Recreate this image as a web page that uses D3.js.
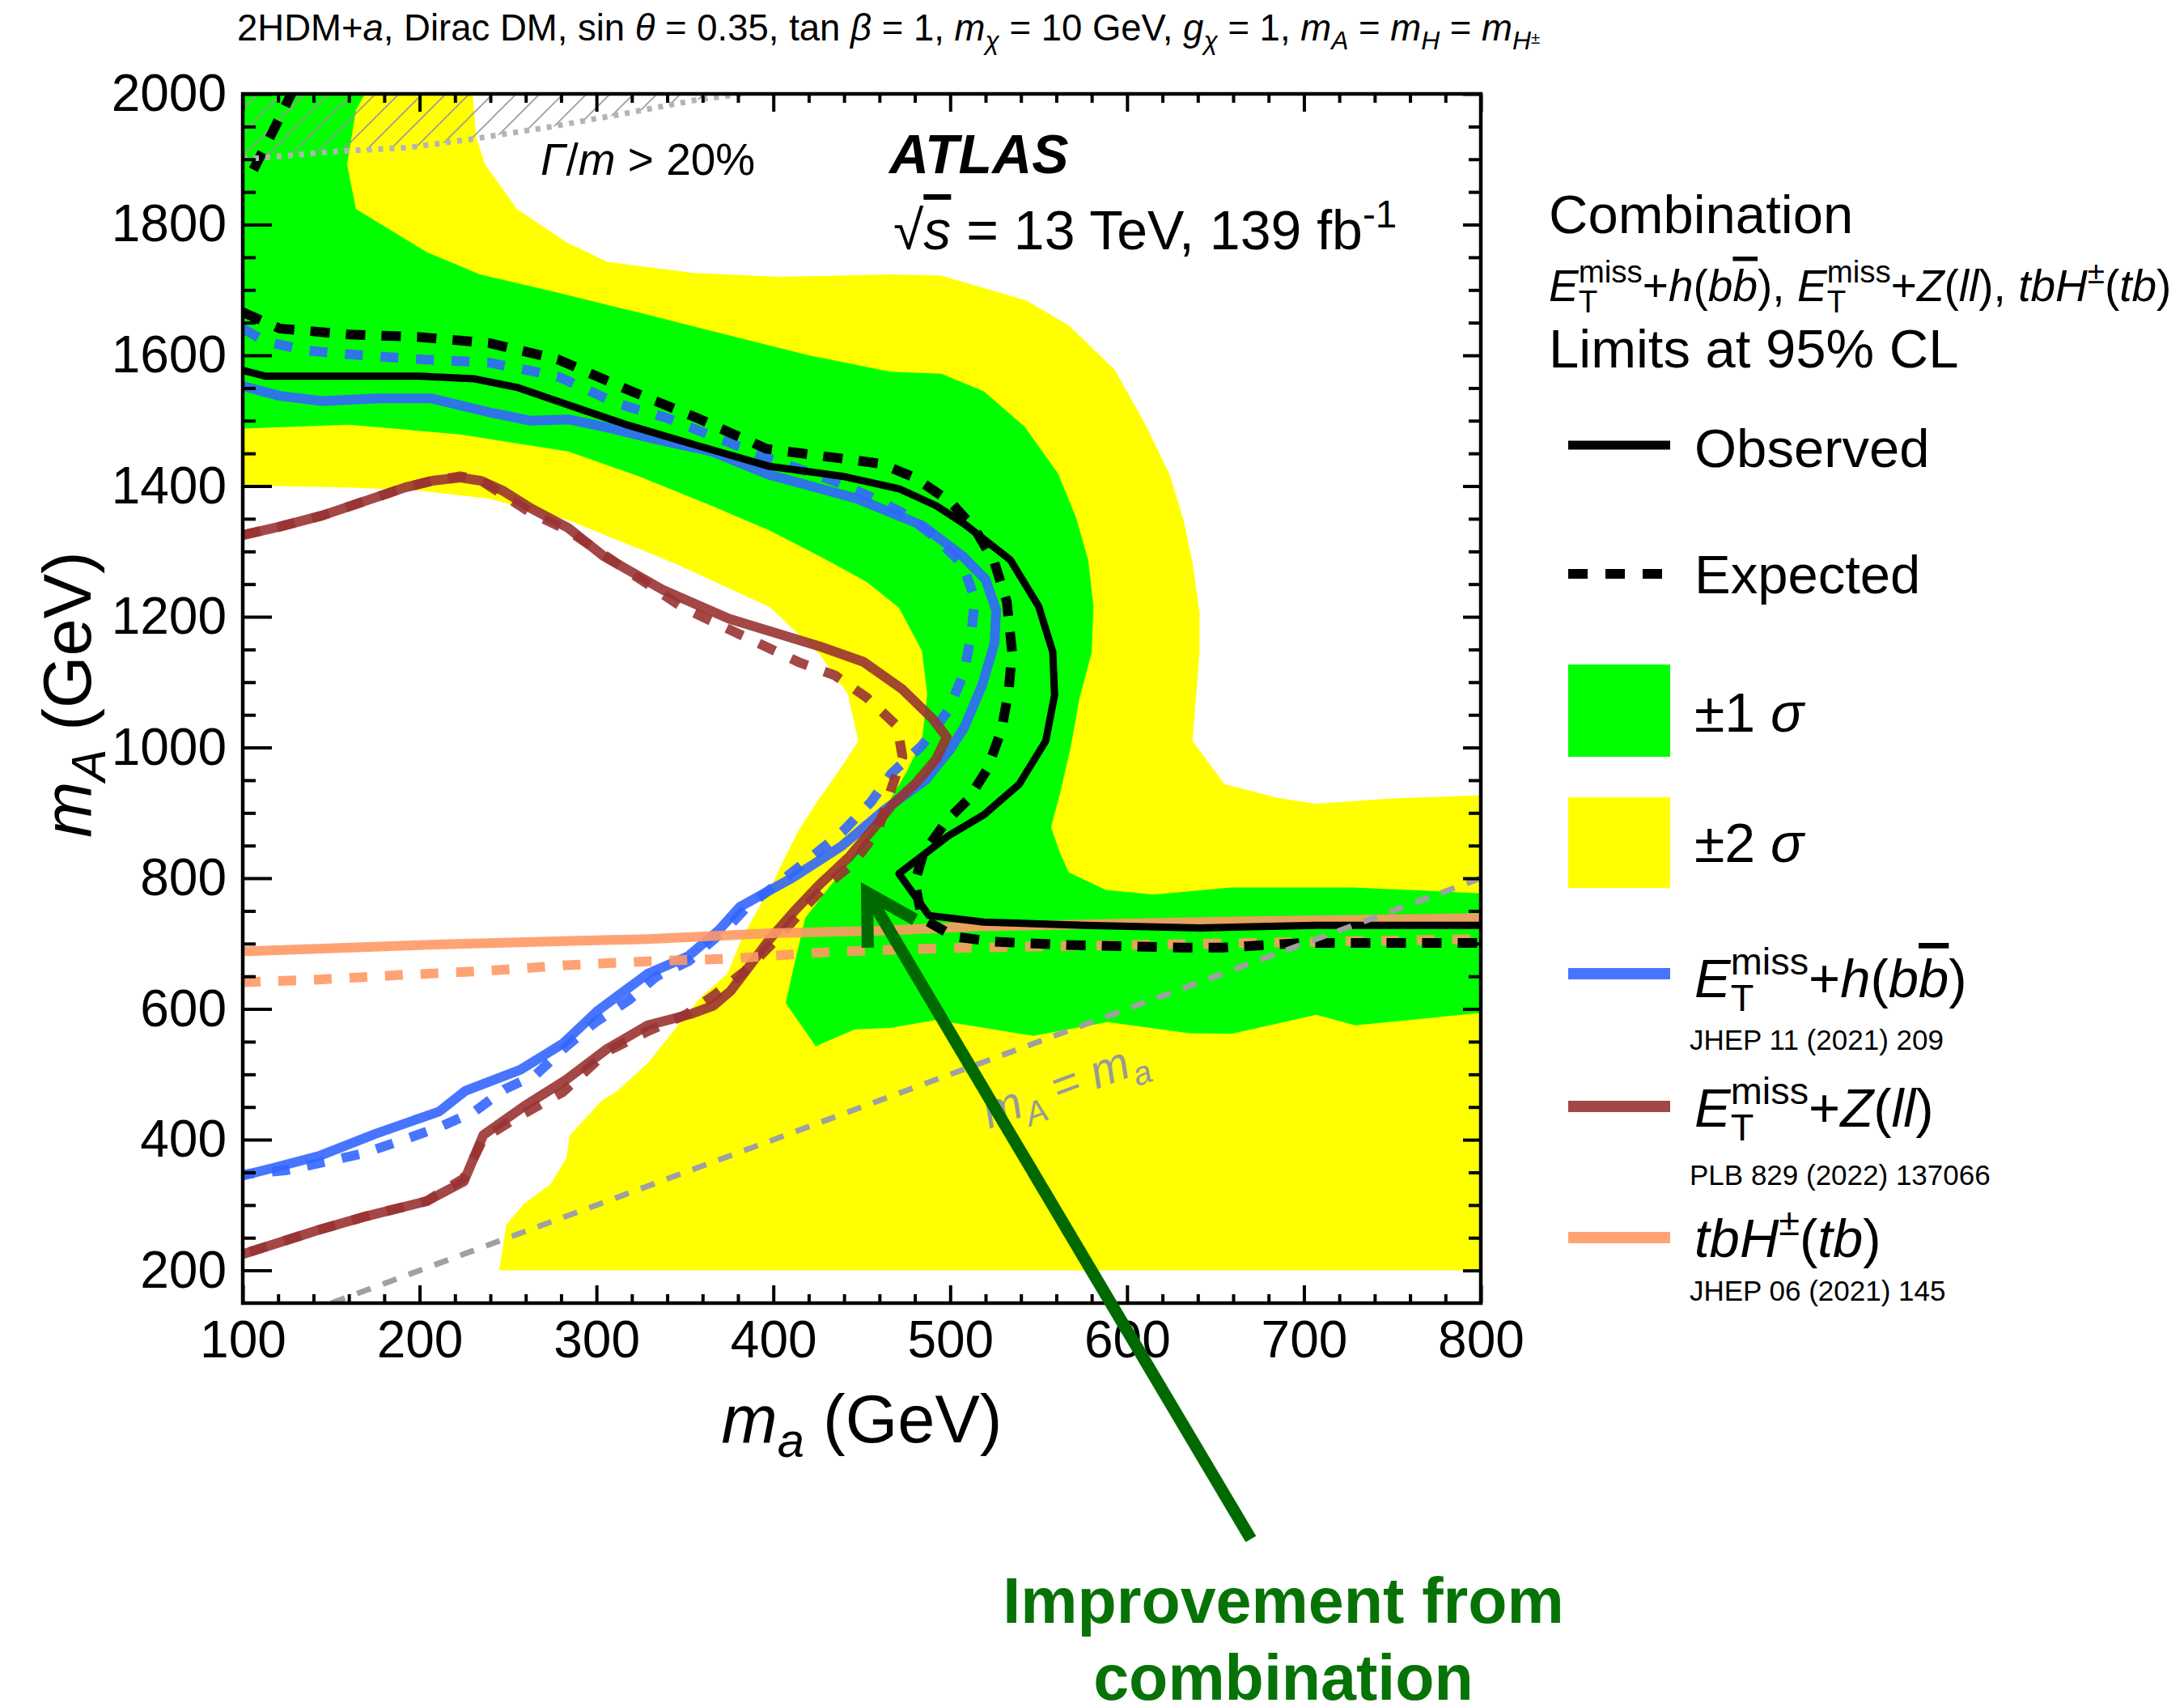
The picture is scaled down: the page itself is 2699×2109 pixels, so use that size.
<!DOCTYPE html>
<html>
<head>
<meta charset="utf-8">
<script src="https://cdn.jsdelivr.net/npm/d3@7"></script>
<style>
  body { margin: 0; background: #fff; }
  svg text { font-family: "Liberation Sans", Arial, Helvetica, sans-serif; }
</style>
</head>
<body>
<div id="chart"></div>
<script>
// axis ticks
const xMajor = [100, 200, 300, 400, 500, 600, 700, 800];
const yMajor = [200, 400, 600, 800, 1000, 1200, 1400, 1600, 1800, 2000];

// expected +-1 sigma band (upper/right edge, lower/left edge), [m_a, m_A]
const band1Upper = [[169,2000],[164,1975],[159,1892],[164,1824],[204,1758],[234,1724],[278,1696],[326,1664],[373,1632],[420,1600],[466,1575],[495,1572],[519,1545],[542,1491],[561,1419],[571,1353],[578,1287],[581,1216],[580,1146],[573,1074],[568,999],[562,929],[557,878],[562,839],[567,809],[588,782],[615,775],[659,786],[728,786],[800,777]];
const band1Lower = [[100,1488],[160,1494],[223,1479],[284,1453],[324,1415],[365,1370],[398,1332],[426,1293],[453,1253],[471,1214],[484,1148],[487,1082],[484,1010],[475,961],[459,888],[439,812],[426,767],[418,739],[411,658],[407,609],[424,543],[446,569],[466,571],[492,583],[547,559],[589,580],[635,563],[659,562],[707,591],[729,575],[800,594]];

// expected +-2 sigma band
const band2Upper = [[230,2000],[232,1933],[237,1892],[255,1824],[283,1773],[306,1743],[355,1726],[404,1720],[466,1724],[495,1722],[543,1684],[567,1646],[593,1578],[610,1496],[624,1418],[632,1347],[637,1283],[641,1206],[641,1146],[637,1010],[655,944],[685,923],[707,914],[750,922],[800,927]];
const band2Lower = [[100,1401],[160,1398],[200,1393],[239,1381],[284,1348],[345,1281],[398,1215],[426,1143],[442,1082],[448,1010],[439,972],[426,922],[414,872],[404,818],[399,788],[392,756],[382,707],[374,654],[359,618],[341,558],[329,517],[311,473],[303,460],[285,407],[283,372],[274,332],[259,302],[249,270],[245,200]];

// combination limits
const observed = [[100,1577],[113,1568],[152,1568],[200,1568],[231,1564],[255,1551],[283,1525],[318,1493],[357,1462],[398,1430],[439,1415],[471,1396],[492,1370],[508,1342],[534,1287],[550,1216],[558,1146],[559,1080],[554,1010],[539,944],[519,897],[499,865],[471,807],[488,743],[519,733],[576,728],[641,724],[707,728],[800,728]];
const expected = [[100,1666],[121,1641],[160,1632],[200,1628],[239,1619],[278,1594],[318,1547],[357,1504],[396,1457],[439,1442],[461,1434],[480,1413],[500,1376],[514,1334],[525,1283],[532,1223],[535,1146],[533,1086],[529,1027],[521,967],[510,920],[498,888],[485,839],[480,794],[484,739],[502,711],[524,703],[565,698],[631,694],[654,694],[699,701],[786,701],[800,701]];
const expectedCorner = [[106,1884],[116,1937],[128,2003]];

// individual analyses
const hbbObs = [[100,1553],[121,1538],[145,1530],[176,1534],[207,1534],[239,1513],[263,1500],[284,1502],[304,1491],[333,1472],[365,1453],[398,1417],[447,1381],[484,1340],[507,1293],[520,1257],[526,1210],[525,1159],[518,1095],[508,1031],[500,997],[486,950],[463,905],[439,850],[411,801],[381,756],[369,720],[352,681],[329,654],[301,598],[281,547],[257,507],[226,475],[211,443],[175,409],[143,375],[119,358],[100,345]];
const hbbExp = [[100,1641],[113,1621],[137,1607],[168,1600],[200,1594],[239,1589],[278,1568],[312,1526],[340,1504],[398,1442],[436,1406],[457,1381],[473,1359],[491,1323],[507,1280],[514,1227],[512,1176],[508,1116],[499,1057],[484,1003],[467,961],[455,916],[439,871],[420,829],[404,795],[385,756],[374,724],[352,673],[334,650],[318,613],[299,579],[283,543],[266,500],[248,477],[231,443],[211,419],[189,398],[168,379],[150,368],[124,353],[100,347]];
const zllObs = [[100,1325],[121,1338],[145,1355],[168,1376],[192,1398],[207,1408],[223,1413],[235,1408],[247,1393],[263,1366],[284,1336],[304,1293],[337,1242],[375,1197],[426,1155],[451,1131],[473,1089],[490,1044],[498,1016],[492,982],[480,944],[467,912],[459,884],[443,833],[426,790],[412,750],[398,707],[388,671],[376,628],[366,605],[353,592],[329,575],[306,539],[283,492],[259,451],[236,407],[225,336],[204,306],[170,283],[143,262],[100,225]];
const zllExp = [[100,1325],[121,1338],[145,1355],[168,1376],[192,1398],[207,1408],[223,1415],[235,1408],[247,1387],[263,1359],[284,1332],[320,1266],[349,1214],[374,1182],[414,1131],[435,1110],[453,1076],[470,1033],[473,986],[467,939],[459,873],[445,822],[430,790],[418,756],[402,707],[384,658],[366,620],[351,592],[329,566],[306,535],[281,473],[255,434],[236,402],[225,341],[204,306],[170,283],[143,262],[100,225]];
const tbhObs = [[100,688],[213,699],[329,707],[399,716],[462,720],[514,726],[640,733],[800,739]];
const tbhExp = [[100,641],[143,645],[189,652],[236,658],[283,667],[329,673],[376,677],[423,686],[458,690],[514,694],[800,707]];

// Gamma/m > 20% boundary and m_A = m_a line
const widthLimit = [[100,1900],[110,1902],[153,1912],[194,1918],[230,1931],[275,1950],[316,1970],[357,1991],[383,2000]];
const diagonalRange = [150, 800];

// annotation arrow (data coords)
const arrowTip = [453, 778];
const arrowTail = [670, -211];

function it(t) { return { t, it: true }; }
function sub(t, italic) { return { t, s: 0.7, off: 0.25, it: !!italic }; }
function sup(t) { return { t, s: 0.7, off: -0.4 }; }
function supBack(t) { return { t, s: 0.7, off: -0.42, back: true }; }
const etMiss = [it('E'), sub('T'), supBack('miss')];

function richText(parent, x, y, size, runs) {
    const text = parent.append('text').attr('x', x).attr('y', y).attr('font-size', size);
    let shift = 0, prev = null;
    runs.forEach(r => {
        if (typeof r === 'string') r = { t: r };
        const off = (r.off || 0) * size;
        const span = text.append('tspan')
            .attr('font-size', size * (r.s || 1))
            .attr('dy', off - shift)
            .text(r.t);
        shift = off;
        if (r.it) span.attr('font-style', 'italic');
        if (r.ov) span.style('text-decoration', 'overline');
        if (r.back && prev) span.attr('dx', -prev.node().getComputedTextLength());
        prev = span;
    });
    return text;
}

const plot = {
    init(elementId, width, height) {
        this.width = width;
        this.height = height;
        this.frame = { left: 300, top: 116, right: 1830, bottom: 1610 };
        this.x = d3.scaleLinear().domain([100, 800]).range([this.frame.left, this.frame.right]);
        this.y = d3.scaleLinear().domain([150, 2000]).range([this.frame.bottom, this.frame.top]);
        this.line = d3.line().x(d => this.x(d[0])).y(d => this.y(d[1]));
        this.svg = d3.select(`#${elementId}`)
            .append('svg')
            .attr('width', width)
            .attr('height', height);
        this.svg.append('rect').attr('width', width).attr('height', height).attr('fill', '#fff');

        const defs = this.svg.append('defs');
        defs.append('clipPath').attr('id', 'plot-clip')
            .append('rect')
            .attr('x', this.frame.left).attr('y', this.frame.top)
            .attr('width', this.frame.right - this.frame.left)
            .attr('height', this.frame.bottom - this.frame.top);
        const hatch = defs.append('pattern').attr('id', 'hatch')
            .attr('patternUnits', 'userSpaceOnUse')
            .attr('width', 29).attr('height', 29);
        hatch.append('path')
            .attr('d', 'M0,29 L29,0 M-2,2 L2,-2 M27,31 L31,27')
            .attr('stroke', '#9a9a9a').attr('stroke-width', 1.6);
    },

    render() {
        this.content = this.svg.append('g').attr('clip-path', 'url(#plot-clip)');
        this.renderBands();
        this.renderLimits();
        this.renderFrame();
        this.renderAxes();
        this.renderLabels();
        this.renderLegend();
        this.renderArrow();
    },

    renderBands() {
        const yellow = [[100, 2000], ...band2Upper, [800, 200], ...band2Lower.slice().reverse()];
        const green = [[100, 2000], ...band1Upper, ...band1Lower.slice().reverse()];
        const hatched = [[100, 2000], ...widthLimit];
        this.content.append('path').attr('d', this.line(yellow) + 'Z').attr('fill', '#ffff00');
        this.content.append('path').attr('d', this.line(green) + 'Z').attr('fill', '#00ff00');
        this.content.append('path').attr('d', this.line(hatched) + 'Z').attr('fill', 'url(#hatch)');
    },

    renderLimits() {
        const curves = [
            { data: hbbObs, color: '#3366ff' },
            { data: hbbExp, color: '#3366ff', dash: '22 22' },
            { data: zllObs, color: '#993333' },
            { data: zllExp, color: '#993333', dash: '22 22' },
            { data: tbhObs, color: '#ff9966' },
            { data: tbhExp, color: '#ff9966', dash: '22 22' },
        ];
        curves.forEach(c => {
            this.content.append('path')
                .attr('d', this.line(c.data))
                .attr('fill', 'none')
                .attr('stroke', c.color)
                .attr('stroke-opacity', 0.9)
                .attr('stroke-width', 12)
                .attr('stroke-linejoin', 'round')
                .attr('stroke-dasharray', c.dash || null);
        });

        [expected, expectedCorner].forEach(d => {
            this.content.append('path')
                .attr('d', this.line(d))
                .attr('fill', 'none')
                .attr('stroke', '#000')
                .attr('stroke-width', 12)
                .attr('stroke-dasharray', '24 20');
        });
        this.content.append('path')
            .attr('d', this.line(observed))
            .attr('fill', 'none')
            .attr('stroke', '#000')
            .attr('stroke-width', 9)
            .attr('stroke-linejoin', 'round');

        this.content.append('path')
            .attr('d', this.line(diagonalRange.map(v => [v, v])))
            .attr('stroke', '#a0a0a0')
            .attr('stroke-width', 7)
            .attr('stroke-dasharray', '18 16');
        this.content.append('path')
            .attr('d', this.line(widthLimit))
            .attr('fill', 'none')
            .attr('stroke', '#b4b4b4')
            .attr('stroke-width', 7)
            .attr('stroke-dasharray', '6 8');
    },

    renderFrame() {
        const f = this.frame;
        this.svg.append('rect')
            .attr('x', f.left).attr('y', f.top)
            .attr('width', f.right - f.left).attr('height', f.bottom - f.top)
            .attr('fill', 'none').attr('stroke', '#000').attr('stroke-width', 4.5);
    },

    renderAxes() {
        const f = this.frame;
        const xMinor = d3.range(100, 801, 20).filter(v => v % 100 !== 0);
        const yMinor = d3.range(200, 2001, 50).filter(v => v % 200 !== 0);
        const axes = [
            { axis: d3.axisBottom(this.x).tickValues(xMajor).tickSize(-22).tickPadding(22).tickFormat(d3.format('d')), t: `translate(0,${f.bottom})` },
            { axis: d3.axisBottom(this.x).tickValues(xMinor).tickSize(-11).tickFormat(''), t: `translate(0,${f.bottom})` },
            { axis: d3.axisTop(this.x).tickValues(xMajor).tickSize(-22).tickFormat(''), t: `translate(0,${f.top})` },
            { axis: d3.axisTop(this.x).tickValues(xMinor).tickSize(-11).tickFormat(''), t: `translate(0,${f.top})` },
            { axis: d3.axisLeft(this.y).tickValues(yMajor).tickSize(-36).tickPadding(20).tickFormat(d3.format('d')), t: `translate(${f.left},0)` },
            { axis: d3.axisLeft(this.y).tickValues(yMinor).tickSize(-16).tickFormat(''), t: `translate(${f.left},0)` },
            { axis: d3.axisRight(this.y).tickValues(yMajor).tickSize(-22).tickFormat(''), t: `translate(${f.right},0)` },
            { axis: d3.axisRight(this.y).tickValues(yMinor).tickSize(-15).tickFormat(''), t: `translate(${f.right},0)` },
        ];
        axes.forEach(a => {
            const g = this.svg.append('g').attr('transform', a.t).call(a.axis);
            g.select('.domain').remove();
            g.selectAll('line').attr('stroke', '#000').attr('stroke-width', 4);
            g.attr('font-family', null).attr('font-size', null);
            g.selectAll('text').attr('font-size', 64).attr('fill', '#000');
        });
    },

    renderLabels() {
        const g = this.svg.append('g');
        richText(g, 1065, 1782, 83, [it('m'), { t: 'a', it: true, s: 0.72, off: 0.22 }, ' (GeV)'])
            .attr('text-anchor', 'middle');
        richText(g, 0, 0, 83, [it('m'), { t: 'A', it: true, s: 0.72, off: 0.22 }, ' (GeV)'])
            .attr('text-anchor', 'middle')
            .attr('transform', 'translate(112,858) rotate(-90)');

        richText(g, 293, 50, 45.5, ['2HDM+', it('a'), ', Dirac DM, sin ', it('θ'), ' = 0.35, tan ', it('β'),
            ' = 1, ', it('m'), sub('χ', true), ' = 10 GeV, ', it('g'), sub('χ', true), ' = 1, ',
            it('m'), sub('A', true), ' = ', it('m'), sub('H', true), ' = ', it('m'), sub('H', true),
            { t: '±', s: 0.45, off: 0.08 }]);

        richText(g, 1099, 214, 68, [it('ATLAS')]).attr('font-weight', 'bold');
        richText(g, 1104, 308, 68, ['√', { t: 's', it: true, ov: true }, ' = 13 TeV, 139 fb', sup('-1')]);
        richText(g, 668, 216, 55, [it('Γ'), '/', it('m'), ' > 20%']);

        const p0 = [this.x(diagonalRange[0]), this.y(diagonalRange[0])];
        const p1 = [this.x(diagonalRange[1]), this.y(diagonalRange[1])];
        const angle = Math.atan2(p1[1] - p0[1], p1[0] - p0[0]) * 180 / Math.PI;
        richText(g, 0, 0, 58, [it('m'), sub('A', true), ' = ', it('m'), sub('a', true)])
            .attr('text-anchor', 'middle')
            .attr('fill', '#999')
            .attr('transform', `translate(1322,1358) rotate(${angle})`);
    },

    renderLegend() {
        const g = this.svg.append('g');
        const lx0 = 1938, lx1 = 2064, tx = 2094;
        richText(g, 1914, 288, 67, ['Combination']);
        richText(g, 1914, 372, 55, [...etMiss, '+', it('h'), '(', it('b'), { t: 'b', it: true, ov: true }, '), ',
            ...etMiss, '+', it('Z'), '(', it('ll'), '), ', it('tbH'), sup('±'), '(', it('tb'), ')']);
        richText(g, 1914, 454, 67, ['Limits at 95% CL']);

        const lineEntry = (y, color, dash, width) => g.append('line')
            .attr('x1', lx0).attr('x2', lx1).attr('y1', y).attr('y2', y)
            .attr('stroke', color).attr('stroke-width', width)
            .attr('stroke-dasharray', dash || null);

        lineEntry(550, '#000', null, 11);
        richText(g, tx, 577, 67, ['Observed']);
        lineEntry(709, '#000', '24 22', 12);
        richText(g, tx, 733, 67, ['Expected']);

        g.append('rect').attr('x', lx0).attr('y', 821).attr('width', lx1 - lx0).attr('height', 114).attr('fill', '#00ff00');
        richText(g, tx, 904, 68, ['±1 ', it('σ')]);
        g.append('rect').attr('x', lx0).attr('y', 985).attr('width', lx1 - lx0).attr('height', 112).attr('fill', '#ffff00');
        richText(g, tx, 1065, 68, ['±2 ', it('σ')]);

        lineEntry(1203, '#3366ff', null, 14).attr('stroke-opacity', 0.9);
        richText(g, tx, 1232, 67, [...etMiss, '+', it('h'), '(', it('b'), { t: 'b', it: true, ov: true }, ')']);
        richText(g, tx - 6, 1297, 35, ['JHEP 11 (2021) 209']);

        lineEntry(1367, '#993333', null, 14).attr('stroke-opacity', 0.9);
        richText(g, tx, 1392, 67, [...etMiss, '+', it('Z'), '(', it('ll'), ')']);
        richText(g, tx - 6, 1464, 35, ['PLB 829 (2022) 137066']);

        lineEntry(1529, '#ff9966', null, 14).attr('stroke-opacity', 0.9);
        richText(g, tx, 1553, 67, [it('tbH'), sup('±'), '(', it('tb'), ')']);
        richText(g, tx - 6, 1607, 35, ['JHEP 06 (2021) 145']);
    },

    renderArrow() {
        const tip = [this.x(arrowTip[0]), this.y(arrowTip[1])];
        const tail = [this.x(arrowTail[0]), this.y(arrowTail[1])];
        const len = Math.hypot(tail[0] - tip[0], tail[1] - tip[1]);
        const ux = (tail[0] - tip[0]) / len, uy = (tail[1] - tip[1]) / len;
        const head = 68, a = Math.PI / 6;
        const rot = s => [tip[0] + head * (ux * Math.cos(s * a) - uy * Math.sin(s * a)),
                          tip[1] + head * (ux * Math.sin(s * a) + uy * Math.cos(s * a))];
        const g = this.svg.append('g').attr('fill', 'none').attr('stroke', '#006a00').attr('stroke-width', 15);
        g.append('line')
            .attr('x1', tail[0]).attr('y1', tail[1])
            .attr('x2', tip[0] + ux * 6).attr('y2', tip[1] + uy * 6);
        const h1 = rot(1), h2 = rot(-1);
        g.append('path').attr('d', `M${h1[0]},${h1[1]}L${tip[0]},${tip[1]}L${h2[0]},${h2[1]}`)
            .attr('stroke-linejoin', 'miter');

        const t = this.svg.append('g').attr('fill', '#077307').attr('font-weight', 'bold').attr('text-anchor', 'middle');
        richText(t, 1586, 2005, 79, ['Improvement from']);
        richText(t, 1586, 2100, 79, ['combination']);
    }
};

plot.init('chart', 2699, 2109);
plot.render();
</script>
</body>
</html>
